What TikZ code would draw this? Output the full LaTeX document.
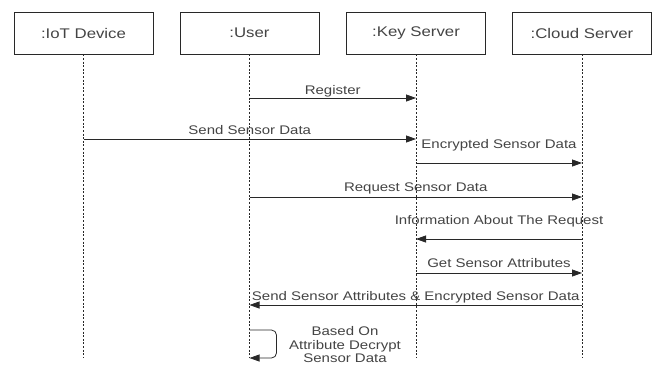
\documentclass[tikz,border=0pt]{standalone}
\usepackage{fontspec}
\setmainfont[FakeStretch=1.2]{Liberation Sans}
\usetikzlibrary{arrows.meta}
\usepackage{xcolor}
\definecolor{lblgray}{RGB}{68,68,68}
\definecolor{linegray}{RGB}{40,40,40}
\tikzset{
  objbox/.style={draw=linegray, fill=white, line width=0.9pt,
    minimum width=139pt, minimum height=42pt, inner sep=0pt,
    text=lblgray, font=\fontsize{14}{16}\selectfont},
  lifeline/.style={linegray, line width=0.9pt, dash pattern=on 2pt off 1.6pt},
  msg/.style={linegray, line width=0.8pt, -{Triangle[length=10pt,width=7pt]}},
  msglbl/.style={anchor=base, inner sep=0pt, text=lblgray,
    font=\fontsize{12.5}{14.5}\selectfont}
}

\begin{document}
\begin{tikzpicture}[x=1pt, y=-1pt]

%% ── Frame ────────────────────────────────────────────────────────────────────
\useasboundingbox (0,0) rectangle (652,367);

%% ── Objects ──────────────────────────────────────────────────────────────────
\node[objbox] (iot)   at (83.5,33)  {:IoT Device};
\node[objbox] (user)  at (249.5,33) {:User};
\node[objbox] (key)   at (416,33)   {:Key Server};
\node[objbox] (cloud) at (582,33)   {:Cloud Server};

%% ── Lifelines ────────────────────────────────────────────────────────────────
\foreach \o in {iot,user,key,cloud}
  \draw[lifeline] (\o.south) -- (\o.south |- 0,358);

%% ── Messages ─────────────────────────────────────────────────────────────────
\draw[msg] (user.south |- 0,98) -- (key.south |- 0,98)
  node (lReg) [msglbl, midway, yshift=3.5pt] {Register};
\draw[msg] (iot.south |- 0,139) -- (key.south |- 0,139)
  node (lSend) [msglbl, midway, yshift=4.5pt] {Send Sensor Data};
\draw[msg] (key.south |- 0,163) -- (cloud.south |- 0,163)
  node (lEnc) [msglbl, midway, yshift=14.5pt] {Encrypted Sensor Data};
\draw[msg] (user.south |- 0,197) -- (cloud.south |- 0,197)
  node (lReq) [msglbl, midway, yshift=5.5pt] {Request Sensor Data};
\draw[msg] (cloud.south |- 0,239) -- (key.south |- 0,239)
  node (lInfo) [msglbl, midway, yshift=14.5pt] {Information About The Request};
\draw[msg] (key.south |- 0,273) -- (cloud.south |- 0,273)
  node (lGet) [msglbl, midway, yshift=5.5pt] {Get Sensor Attributes};
\draw[msg] (cloud.south |- 0,305) -- (user.south |- 0,305)
  node (lAttr) [msglbl, midway, yshift=4.5pt] {Send Sensor Attributes \& Encrypted Sensor Data};

%% ── Self call ────────────────────────────────────────────────────────────────
\draw[msg, rounded corners=5pt] (user.south |- 0,330) -- ++(27,0) -- ++(0,28)
  -- (user.south |- 0,358);
\node[text=lblgray, align=center, inner sep=0pt,
  font=\fontsize{12.5}{13.5}\selectfont] (lSelf) at (345,345)
  {Based On\\Attribute Decrypt\\Sensor Data};

\end{tikzpicture}
\end{document}
